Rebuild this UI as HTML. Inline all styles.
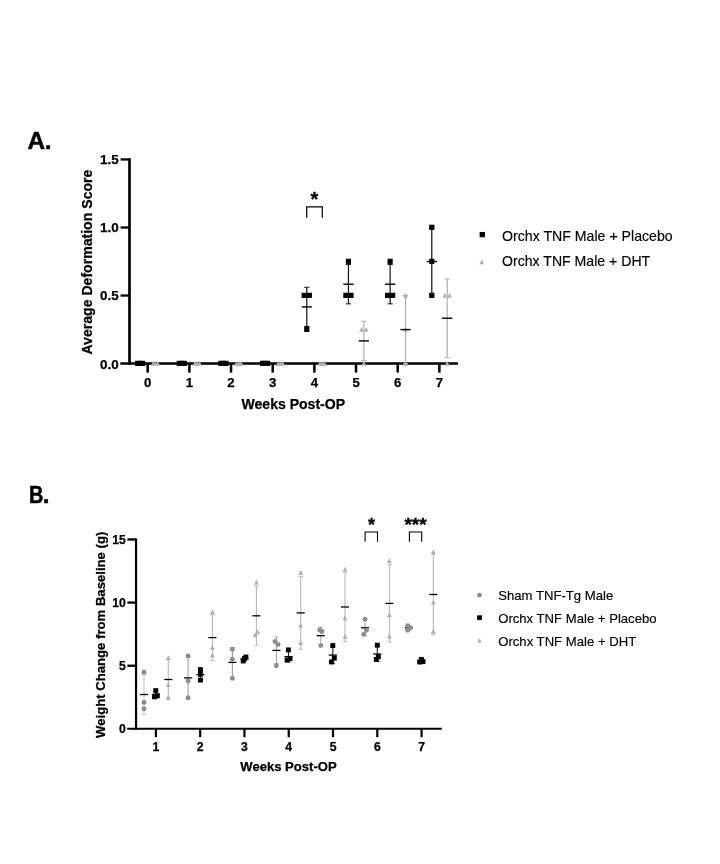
<!DOCTYPE html>
<html lang="en"><head><meta charset="utf-8"><title>Figure</title>
<style>
html,body{margin:0;padding:0;background:#fff;}
body{width:720px;height:864px;overflow:hidden;}
svg{display:block;}
svg text{font-family:"Liberation Sans",sans-serif;fill:#000;}
</style></head><body>
<svg width="720" height="864" viewBox="0 0 720 864">
<rect width="720" height="864" fill="#fff"/>
<line x1="129.50" y1="158.30" x2="129.50" y2="364.85" stroke="#000" stroke-width="2.7" />
<line x1="120.30" y1="363.60" x2="457.90" y2="363.60" stroke="#000" stroke-width="2.5" />
<line x1="120.60" y1="295.55" x2="129.50" y2="295.55" stroke="#000" stroke-width="2.3" />
<line x1="120.60" y1="227.50" x2="129.50" y2="227.50" stroke="#000" stroke-width="2.3" />
<line x1="120.60" y1="159.45" x2="129.50" y2="159.45" stroke="#000" stroke-width="2.3" />
<line x1="147.70" y1="363.60" x2="147.70" y2="372.60" stroke="#000" stroke-width="2.5" />
<text x="147.70" y="386.60" font-size="13.2" font-weight="700" text-anchor="middle" stroke="#000" stroke-width="0.25">0</text>
<line x1="189.37" y1="363.60" x2="189.37" y2="372.60" stroke="#000" stroke-width="2.5" />
<text x="189.37" y="386.60" font-size="13.2" font-weight="700" text-anchor="middle" stroke="#000" stroke-width="0.25">1</text>
<line x1="231.04" y1="363.60" x2="231.04" y2="372.60" stroke="#000" stroke-width="2.5" />
<text x="231.04" y="386.60" font-size="13.2" font-weight="700" text-anchor="middle" stroke="#000" stroke-width="0.25">2</text>
<line x1="272.71" y1="363.60" x2="272.71" y2="372.60" stroke="#000" stroke-width="2.5" />
<text x="272.71" y="386.60" font-size="13.2" font-weight="700" text-anchor="middle" stroke="#000" stroke-width="0.25">3</text>
<line x1="314.38" y1="363.60" x2="314.38" y2="372.60" stroke="#000" stroke-width="2.5" />
<text x="314.38" y="386.60" font-size="13.2" font-weight="700" text-anchor="middle" stroke="#000" stroke-width="0.25">4</text>
<line x1="356.05" y1="363.60" x2="356.05" y2="372.60" stroke="#000" stroke-width="2.5" />
<text x="356.05" y="386.60" font-size="13.2" font-weight="700" text-anchor="middle" stroke="#000" stroke-width="0.25">5</text>
<line x1="397.72" y1="363.60" x2="397.72" y2="372.60" stroke="#000" stroke-width="2.5" />
<text x="397.72" y="386.60" font-size="13.2" font-weight="700" text-anchor="middle" stroke="#000" stroke-width="0.25">6</text>
<line x1="439.39" y1="363.60" x2="439.39" y2="372.60" stroke="#000" stroke-width="2.5" />
<text x="439.39" y="386.60" font-size="13.2" font-weight="700" text-anchor="middle" stroke="#000" stroke-width="0.25">7</text>
<text x="118.70" y="368.50" font-size="13.4" font-weight="700" text-anchor="end" stroke="#000" stroke-width="0.25">0.0</text>
<text x="118.70" y="300.45" font-size="13.4" font-weight="700" text-anchor="end" stroke="#000" stroke-width="0.25">0.5</text>
<text x="118.70" y="232.40" font-size="13.4" font-weight="700" text-anchor="end" stroke="#000" stroke-width="0.25">1.0</text>
<text x="118.70" y="164.35" font-size="13.4" font-weight="700" text-anchor="end" stroke="#000" stroke-width="0.25">1.5</text>
<text x="293.30" y="409.00" font-size="14" font-weight="700" text-anchor="middle" textLength="103.5" lengthAdjust="spacingAndGlyphs" stroke="#000" stroke-width="0.25">Weeks Post-OP</text>
<text transform="translate(92.1,262.1) rotate(-90)" font-size="14.4" font-weight="700" stroke="#000" stroke-width="0.25" text-anchor="middle" textLength="185" lengthAdjust="spacingAndGlyphs">Average Deformation Score</text>
<text x="27.60" y="148.90" font-size="24.4" font-weight="700" text-anchor="start" stroke="#000" stroke-width="0.5" letter-spacing="-0.5">A.</text>
<rect x="135.00" y="360.80" width="5.2" height="5.2" fill="#000"/>
<rect x="137.50" y="360.80" width="5.2" height="5.2" fill="#000"/>
<rect x="140.00" y="360.80" width="5.2" height="5.2" fill="#000"/>
<rect x="176.67" y="360.80" width="5.2" height="5.2" fill="#000"/>
<rect x="179.17" y="360.80" width="5.2" height="5.2" fill="#000"/>
<rect x="181.67" y="360.80" width="5.2" height="5.2" fill="#000"/>
<rect x="218.34" y="360.80" width="5.2" height="5.2" fill="#000"/>
<rect x="220.84" y="360.80" width="5.2" height="5.2" fill="#000"/>
<rect x="223.34" y="360.80" width="5.2" height="5.2" fill="#000"/>
<rect x="260.01" y="360.80" width="5.2" height="5.2" fill="#000"/>
<rect x="262.51" y="360.80" width="5.2" height="5.2" fill="#000"/>
<rect x="265.01" y="360.80" width="5.2" height="5.2" fill="#000"/>
<line x1="306.78" y1="287.25" x2="306.78" y2="326.54" stroke="#111" stroke-width="1.2" />
<line x1="304.18" y1="287.25" x2="309.38" y2="287.25" stroke="#111" stroke-width="1.0" />
<line x1="304.18" y1="326.54" x2="309.38" y2="326.54" stroke="#111" stroke-width="1.0" />
<rect x="301.63" y="292.75" width="5.2" height="5.2" fill="#000"/>
<rect x="306.73" y="292.75" width="5.2" height="5.2" fill="#000"/>
<rect x="304.18" y="326.78" width="5.2" height="5.2" fill="#000"/>
<line x1="301.68" y1="306.89" x2="311.88" y2="306.89" stroke="#000" stroke-width="1.4" />
<line x1="348.45" y1="264.56" x2="348.45" y2="303.85" stroke="#111" stroke-width="1.2" />
<line x1="345.85" y1="264.56" x2="351.05" y2="264.56" stroke="#111" stroke-width="1.0" />
<line x1="345.85" y1="303.85" x2="351.05" y2="303.85" stroke="#111" stroke-width="1.0" />
<rect x="343.30" y="292.75" width="5.2" height="5.2" fill="#000"/>
<rect x="348.40" y="292.75" width="5.2" height="5.2" fill="#000"/>
<rect x="345.85" y="258.73" width="5.2" height="5.2" fill="#000"/>
<line x1="343.35" y1="284.21" x2="353.55" y2="284.21" stroke="#000" stroke-width="1.4" />
<line x1="390.12" y1="264.56" x2="390.12" y2="303.85" stroke="#111" stroke-width="1.2" />
<line x1="387.52" y1="264.56" x2="392.72" y2="264.56" stroke="#111" stroke-width="1.0" />
<line x1="387.52" y1="303.85" x2="392.72" y2="303.85" stroke="#111" stroke-width="1.0" />
<rect x="384.97" y="292.75" width="5.2" height="5.2" fill="#000"/>
<rect x="390.07" y="292.75" width="5.2" height="5.2" fill="#000"/>
<rect x="387.52" y="258.73" width="5.2" height="5.2" fill="#000"/>
<line x1="385.02" y1="284.21" x2="395.22" y2="284.21" stroke="#000" stroke-width="1.4" />
<line x1="431.79" y1="227.50" x2="431.79" y2="295.55" stroke="#111" stroke-width="1.2" />
<line x1="429.19" y1="227.50" x2="434.39" y2="227.50" stroke="#111" stroke-width="1.0" />
<line x1="429.19" y1="295.55" x2="434.39" y2="295.55" stroke="#111" stroke-width="1.0" />
<rect x="429.19" y="224.70" width="5.2" height="5.2" fill="#000"/>
<rect x="429.19" y="258.73" width="5.2" height="5.2" fill="#000"/>
<rect x="429.19" y="292.75" width="5.2" height="5.2" fill="#000"/>
<line x1="426.69" y1="261.53" x2="436.89" y2="261.53" stroke="#000" stroke-width="1.4" />
<polygon points="153.20,361.00 150.80,365.80 155.60,365.80" fill="#b0b0b0"/>
<polygon points="155.50,361.00 153.10,365.80 157.90,365.80" fill="#b0b0b0"/>
<polygon points="157.80,361.00 155.40,365.80 160.20,365.80" fill="#b0b0b0"/>
<polygon points="194.87,361.00 192.47,365.80 197.27,365.80" fill="#b0b0b0"/>
<polygon points="197.17,361.00 194.77,365.80 199.57,365.80" fill="#b0b0b0"/>
<polygon points="199.47,361.00 197.07,365.80 201.87,365.80" fill="#b0b0b0"/>
<polygon points="236.54,361.00 234.14,365.80 238.94,365.80" fill="#b0b0b0"/>
<polygon points="238.84,361.00 236.44,365.80 241.24,365.80" fill="#b0b0b0"/>
<polygon points="241.14,361.00 238.74,365.80 243.54,365.80" fill="#b0b0b0"/>
<polygon points="278.21,361.00 275.81,365.80 280.61,365.80" fill="#b0b0b0"/>
<polygon points="280.51,361.00 278.11,365.80 282.91,365.80" fill="#b0b0b0"/>
<polygon points="282.81,361.00 280.41,365.80 285.21,365.80" fill="#b0b0b0"/>
<polygon points="319.88,361.00 317.48,365.80 322.28,365.80" fill="#b0b0b0"/>
<polygon points="322.18,361.00 319.78,365.80 324.58,365.80" fill="#b0b0b0"/>
<polygon points="324.48,361.00 322.08,365.80 326.88,365.80" fill="#b0b0b0"/>
<line x1="363.85" y1="321.27" x2="363.85" y2="360.56" stroke="#adadad" stroke-width="1.2" />
<line x1="361.25" y1="321.27" x2="366.45" y2="321.27" stroke="#adadad" stroke-width="1.0" />
<line x1="361.25" y1="360.56" x2="366.45" y2="360.56" stroke="#adadad" stroke-width="1.0" />
<polygon points="361.50,326.98 359.10,331.78 363.90,331.78" fill="#b0b0b0"/>
<polygon points="366.20,326.98 363.80,331.78 368.60,331.78" fill="#b0b0b0"/>
<polygon points="363.85,361.00 361.45,365.80 366.25,365.80" fill="#b0b0b0"/>
<line x1="358.75" y1="340.92" x2="368.95" y2="340.92" stroke="#000" stroke-width="1.4" />
<line x1="405.52" y1="295.55" x2="405.52" y2="363.60" stroke="#adadad" stroke-width="1.2" />
<line x1="402.92" y1="295.55" x2="408.12" y2="295.55" stroke="#adadad" stroke-width="1.0" />
<line x1="402.92" y1="363.60" x2="408.12" y2="363.60" stroke="#adadad" stroke-width="1.0" />
<polygon points="405.52,292.95 403.12,297.75 407.92,297.75" fill="#b0b0b0"/>
<polygon points="405.52,326.98 403.12,331.78 407.92,331.78" fill="#b0b0b0"/>
<polygon points="405.52,361.00 403.12,365.80 407.92,365.80" fill="#b0b0b0"/>
<line x1="400.42" y1="329.58" x2="410.62" y2="329.58" stroke="#000" stroke-width="1.4" />
<line x1="447.19" y1="278.94" x2="447.19" y2="357.52" stroke="#adadad" stroke-width="1.2" />
<line x1="444.59" y1="278.94" x2="449.79" y2="278.94" stroke="#adadad" stroke-width="1.0" />
<line x1="444.59" y1="357.52" x2="449.79" y2="357.52" stroke="#adadad" stroke-width="1.0" />
<polygon points="444.84,292.95 442.44,297.75 447.24,297.75" fill="#b0b0b0"/>
<polygon points="449.54,292.95 447.14,297.75 451.94,297.75" fill="#b0b0b0"/>
<polygon points="447.19,361.00 444.79,365.80 449.59,365.80" fill="#b0b0b0"/>
<line x1="442.09" y1="318.23" x2="452.29" y2="318.23" stroke="#000" stroke-width="1.4" />
<polyline points="306.7,217.8 306.7,206.8 322.3,206.8 322.3,217.8" fill="none" stroke="#000" stroke-width="1.2"/>
<text x="314.40" y="206.10" font-size="20" font-weight="700" text-anchor="middle" stroke="#000" stroke-width="0.3">*</text>
<rect x="479.65" y="231.95" width="5.3" height="5.3" fill="#000"/>
<polygon points="481.80,259.40 479.40,264.20 484.20,264.20" fill="#b0b0b0"/>
<text x="502.00" y="240.80" font-size="14.1" font-weight="400" text-anchor="start" textLength="170.7" lengthAdjust="spacingAndGlyphs" stroke="#000" stroke-width="0.15">Orchx TNF Male + Placebo</text>
<text x="502.00" y="266.30" font-size="14.1" font-weight="400" text-anchor="start" textLength="148.2" lengthAdjust="spacingAndGlyphs" stroke="#000" stroke-width="0.15">Orchx TNF Male + DHT</text>
<line x1="136.05" y1="538.50" x2="136.05" y2="729.85" stroke="#000" stroke-width="2.2" />
<line x1="127.20" y1="728.85" x2="441.80" y2="728.85" stroke="#000" stroke-width="2.0" />
<line x1="127.40" y1="665.72" x2="136.05" y2="665.72" stroke="#000" stroke-width="2.3" />
<line x1="127.40" y1="602.58" x2="136.05" y2="602.58" stroke="#000" stroke-width="2.3" />
<line x1="127.40" y1="539.45" x2="136.05" y2="539.45" stroke="#000" stroke-width="2.3" />
<line x1="155.90" y1="728.85" x2="155.90" y2="737.20" stroke="#000" stroke-width="2.2" />
<text x="155.90" y="750.70" font-size="12.2" font-weight="700" text-anchor="middle" stroke="#000" stroke-width="0.25">1</text>
<line x1="200.18" y1="728.85" x2="200.18" y2="737.20" stroke="#000" stroke-width="2.2" />
<text x="200.18" y="750.70" font-size="12.2" font-weight="700" text-anchor="middle" stroke="#000" stroke-width="0.25">2</text>
<line x1="244.46" y1="728.85" x2="244.46" y2="737.20" stroke="#000" stroke-width="2.2" />
<text x="244.46" y="750.70" font-size="12.2" font-weight="700" text-anchor="middle" stroke="#000" stroke-width="0.25">3</text>
<line x1="288.74" y1="728.85" x2="288.74" y2="737.20" stroke="#000" stroke-width="2.2" />
<text x="288.74" y="750.70" font-size="12.2" font-weight="700" text-anchor="middle" stroke="#000" stroke-width="0.25">4</text>
<line x1="333.02" y1="728.85" x2="333.02" y2="737.20" stroke="#000" stroke-width="2.2" />
<text x="333.02" y="750.70" font-size="12.2" font-weight="700" text-anchor="middle" stroke="#000" stroke-width="0.25">5</text>
<line x1="377.30" y1="728.85" x2="377.30" y2="737.20" stroke="#000" stroke-width="2.2" />
<text x="377.30" y="750.70" font-size="12.2" font-weight="700" text-anchor="middle" stroke="#000" stroke-width="0.25">6</text>
<line x1="421.58" y1="728.85" x2="421.58" y2="737.20" stroke="#000" stroke-width="2.2" />
<text x="421.58" y="750.70" font-size="12.2" font-weight="700" text-anchor="middle" stroke="#000" stroke-width="0.25">7</text>
<text x="125.90" y="733.25" font-size="12.2" font-weight="700" text-anchor="end" stroke="#000" stroke-width="0.25">0</text>
<text x="125.90" y="670.12" font-size="12.2" font-weight="700" text-anchor="end" stroke="#000" stroke-width="0.25">5</text>
<text x="125.90" y="606.98" font-size="12.2" font-weight="700" text-anchor="end" stroke="#000" stroke-width="0.25">10</text>
<text x="125.90" y="543.85" font-size="12.2" font-weight="700" text-anchor="end" stroke="#000" stroke-width="0.25">15</text>
<text x="288.50" y="770.70" font-size="13" font-weight="700" text-anchor="middle" textLength="96.3" lengthAdjust="spacingAndGlyphs" stroke="#000" stroke-width="0.25">Weeks Post-OP</text>
<text transform="translate(104.5,634.8) rotate(-90)" font-size="13.6" font-weight="700" stroke="#000" stroke-width="0.25" text-anchor="middle" textLength="206.2" lengthAdjust="spacingAndGlyphs">Weight Change from Baseline (g)</text>
<text y="502.6" font-size="24.4" font-weight="700" stroke="#000" stroke-width="0.5"><tspan x="28.9" textLength="14.4" lengthAdjust="spacingAndGlyphs">B</tspan><tspan x="42.7">.</tspan></text>
<line x1="144.00" y1="674.60" x2="144.00" y2="714.40" stroke="#c4c4c4" stroke-width="1.1" />
<line x1="141.70" y1="674.60" x2="146.30" y2="674.60" stroke="#c4c4c4" stroke-width="0.9" />
<line x1="141.70" y1="714.40" x2="146.30" y2="714.40" stroke="#c4c4c4" stroke-width="0.9" />
<line x1="139.95" y1="694.50" x2="148.05" y2="694.50" stroke="#000" stroke-width="1.3" />
<circle cx="144.00" cy="672.30" r="2.45" fill="#8c8c8c"/>
<circle cx="144.00" cy="702.40" r="2.45" fill="#8c8c8c"/>
<circle cx="144.00" cy="708.70" r="2.45" fill="#8c8c8c"/>
<line x1="155.90" y1="691.07" x2="155.90" y2="697.73" stroke="#222" stroke-width="1.1" />
<line x1="153.60" y1="691.07" x2="158.20" y2="691.07" stroke="#222" stroke-width="0.9" />
<line x1="153.60" y1="697.73" x2="158.20" y2="697.73" stroke="#222" stroke-width="0.9" />
<line x1="151.85" y1="694.40" x2="159.95" y2="694.40" stroke="#000" stroke-width="1.3" />
<rect x="153.35" y="688.15" width="4.9" height="4.9" fill="#000"/>
<rect x="152.05" y="694.35" width="4.9" height="4.9" fill="#000"/>
<rect x="154.85" y="693.35" width="4.9" height="4.9" fill="#000"/>
<line x1="168.30" y1="659.32" x2="168.30" y2="699.68" stroke="#b8b8b8" stroke-width="1.1" />
<line x1="166.00" y1="659.32" x2="170.60" y2="659.32" stroke="#b8b8b8" stroke-width="0.9" />
<line x1="166.00" y1="699.68" x2="170.60" y2="699.68" stroke="#b8b8b8" stroke-width="0.9" />
<line x1="164.25" y1="679.50" x2="172.35" y2="679.50" stroke="#000" stroke-width="1.3" />
<polygon points="168.30,655.25 165.85,660.15 170.75,660.15" fill="#b0b0b0"/>
<polygon points="168.30,682.15 165.85,687.05 170.75,687.05" fill="#b0b0b0"/>
<polygon points="168.30,694.75 165.85,699.65 170.75,699.65" fill="#b0b0b0"/>
<line x1="188.10" y1="656.86" x2="188.10" y2="698.94" stroke="#a4a4a4" stroke-width="1.1" />
<line x1="185.80" y1="656.86" x2="190.40" y2="656.86" stroke="#a4a4a4" stroke-width="0.9" />
<line x1="185.80" y1="698.94" x2="190.40" y2="698.94" stroke="#a4a4a4" stroke-width="0.9" />
<line x1="184.05" y1="677.90" x2="192.15" y2="677.90" stroke="#000" stroke-width="1.3" />
<circle cx="188.10" cy="655.90" r="2.45" fill="#8c8c8c"/>
<circle cx="188.10" cy="681.00" r="2.45" fill="#8c8c8c"/>
<circle cx="188.10" cy="697.70" r="2.45" fill="#8c8c8c"/>
<line x1="200.40" y1="669.34" x2="200.40" y2="679.86" stroke="#222" stroke-width="1.1" />
<line x1="198.10" y1="669.34" x2="202.70" y2="669.34" stroke="#222" stroke-width="0.9" />
<line x1="198.10" y1="679.86" x2="202.70" y2="679.86" stroke="#222" stroke-width="0.9" />
<line x1="196.35" y1="674.60" x2="204.45" y2="674.60" stroke="#000" stroke-width="1.3" />
<rect x="197.95" y="667.15" width="4.9" height="4.9" fill="#000"/>
<rect x="197.95" y="671.85" width="4.9" height="4.9" fill="#000"/>
<rect x="197.95" y="677.65" width="4.9" height="4.9" fill="#000"/>
<line x1="212.40" y1="614.69" x2="212.40" y2="660.51" stroke="#b8b8b8" stroke-width="1.1" />
<line x1="210.10" y1="614.69" x2="214.70" y2="614.69" stroke="#b8b8b8" stroke-width="0.9" />
<line x1="210.10" y1="660.51" x2="214.70" y2="660.51" stroke="#b8b8b8" stroke-width="0.9" />
<line x1="208.35" y1="637.60" x2="216.45" y2="637.60" stroke="#000" stroke-width="1.3" />
<polygon points="212.40,609.55 209.95,614.45 214.85,614.45" fill="#b0b0b0"/>
<polygon points="212.40,644.75 209.95,649.65 214.85,649.65" fill="#b0b0b0"/>
<polygon points="212.40,652.55 209.95,657.45 214.85,657.45" fill="#b0b0b0"/>
<line x1="232.40" y1="647.60" x2="232.40" y2="677.20" stroke="#9c9c9c" stroke-width="1.1" />
<line x1="230.10" y1="647.60" x2="234.70" y2="647.60" stroke="#9c9c9c" stroke-width="0.9" />
<line x1="230.10" y1="677.20" x2="234.70" y2="677.20" stroke="#9c9c9c" stroke-width="0.9" />
<line x1="228.35" y1="662.40" x2="236.45" y2="662.40" stroke="#000" stroke-width="1.3" />
<circle cx="232.40" cy="649.30" r="2.45" fill="#8c8c8c"/>
<circle cx="232.40" cy="659.20" r="2.45" fill="#8c8c8c"/>
<circle cx="232.40" cy="678.40" r="2.45" fill="#8c8c8c"/>
<line x1="244.50" y1="656.89" x2="244.50" y2="660.91" stroke="#222" stroke-width="1.1" />
<line x1="242.20" y1="656.89" x2="246.80" y2="656.89" stroke="#222" stroke-width="0.9" />
<line x1="242.20" y1="660.91" x2="246.80" y2="660.91" stroke="#222" stroke-width="0.9" />
<line x1="240.45" y1="658.90" x2="248.55" y2="658.90" stroke="#000" stroke-width="1.3" />
<rect x="243.45" y="654.55" width="4.9" height="4.9" fill="#000"/>
<rect x="240.75" y="658.55" width="4.9" height="4.9" fill="#000"/>
<rect x="242.15" y="656.15" width="4.9" height="4.9" fill="#000"/>
<line x1="256.40" y1="586.32" x2="256.40" y2="645.28" stroke="#b8b8b8" stroke-width="1.1" />
<line x1="254.10" y1="586.32" x2="258.70" y2="586.32" stroke="#b8b8b8" stroke-width="0.9" />
<line x1="254.10" y1="645.28" x2="258.70" y2="645.28" stroke="#b8b8b8" stroke-width="0.9" />
<line x1="252.35" y1="615.80" x2="260.45" y2="615.80" stroke="#000" stroke-width="1.3" />
<polygon points="256.40,579.75 253.95,584.65 258.85,584.65" fill="#b0b0b0"/>
<polygon points="257.60,629.25 255.15,634.15 260.05,634.15" fill="#b0b0b0"/>
<polygon points="255.10,632.25 252.65,637.15 257.55,637.15" fill="#b0b0b0"/>
<line x1="276.40" y1="637.13" x2="276.40" y2="663.67" stroke="#a8a8a8" stroke-width="1.1" />
<line x1="274.10" y1="637.13" x2="278.70" y2="637.13" stroke="#a8a8a8" stroke-width="0.9" />
<line x1="274.10" y1="663.67" x2="278.70" y2="663.67" stroke="#a8a8a8" stroke-width="0.9" />
<line x1="272.35" y1="650.40" x2="280.45" y2="650.40" stroke="#000" stroke-width="1.3" />
<circle cx="275.00" cy="641.50" r="2.45" fill="#8c8c8c"/>
<circle cx="278.00" cy="644.40" r="2.45" fill="#8c8c8c"/>
<circle cx="276.40" cy="665.80" r="2.45" fill="#8c8c8c"/>
<line x1="288.50" y1="651.13" x2="288.50" y2="662.07" stroke="#222" stroke-width="1.1" />
<line x1="286.20" y1="651.13" x2="290.80" y2="651.13" stroke="#222" stroke-width="0.9" />
<line x1="286.20" y1="662.07" x2="290.80" y2="662.07" stroke="#222" stroke-width="0.9" />
<line x1="284.45" y1="656.60" x2="292.55" y2="656.60" stroke="#000" stroke-width="1.3" />
<rect x="285.95" y="647.45" width="4.9" height="4.9" fill="#000"/>
<rect x="284.65" y="657.55" width="4.9" height="4.9" fill="#000"/>
<rect x="287.55" y="656.15" width="4.9" height="4.9" fill="#000"/>
<line x1="300.70" y1="576.44" x2="300.70" y2="649.36" stroke="#b8b8b8" stroke-width="1.1" />
<line x1="298.40" y1="576.44" x2="303.00" y2="576.44" stroke="#b8b8b8" stroke-width="0.9" />
<line x1="298.40" y1="649.36" x2="303.00" y2="649.36" stroke="#b8b8b8" stroke-width="0.9" />
<line x1="296.65" y1="612.90" x2="304.75" y2="612.90" stroke="#000" stroke-width="1.3" />
<polygon points="300.70,570.05 298.25,574.95 303.15,574.95" fill="#b0b0b0"/>
<polygon points="300.70,622.75 298.25,627.65 303.15,627.65" fill="#b0b0b0"/>
<polygon points="300.70,640.05 298.25,644.95 303.15,644.95" fill="#b0b0b0"/>
<line x1="320.80" y1="627.07" x2="320.80" y2="644.33" stroke="#a8a8a8" stroke-width="1.1" />
<line x1="318.50" y1="627.07" x2="323.10" y2="627.07" stroke="#a8a8a8" stroke-width="0.9" />
<line x1="318.50" y1="644.33" x2="323.10" y2="644.33" stroke="#a8a8a8" stroke-width="0.9" />
<line x1="316.75" y1="635.70" x2="324.85" y2="635.70" stroke="#000" stroke-width="1.3" />
<circle cx="319.70" cy="630.00" r="2.45" fill="#8c8c8c"/>
<circle cx="322.00" cy="631.40" r="2.45" fill="#8c8c8c"/>
<circle cx="320.80" cy="645.60" r="2.45" fill="#8c8c8c"/>
<line x1="332.80" y1="646.55" x2="332.80" y2="663.65" stroke="#222" stroke-width="1.1" />
<line x1="330.50" y1="646.55" x2="335.10" y2="646.55" stroke="#222" stroke-width="0.9" />
<line x1="330.50" y1="663.65" x2="335.10" y2="663.65" stroke="#222" stroke-width="0.9" />
<line x1="328.75" y1="655.10" x2="336.85" y2="655.10" stroke="#000" stroke-width="1.3" />
<rect x="330.35" y="643.15" width="4.9" height="4.9" fill="#000"/>
<rect x="331.85" y="655.75" width="4.9" height="4.9" fill="#000"/>
<rect x="328.95" y="659.45" width="4.9" height="4.9" fill="#000"/>
<line x1="345.00" y1="572.38" x2="345.00" y2="641.62" stroke="#b8b8b8" stroke-width="1.1" />
<line x1="342.70" y1="572.38" x2="347.30" y2="572.38" stroke="#b8b8b8" stroke-width="0.9" />
<line x1="342.70" y1="641.62" x2="347.30" y2="641.62" stroke="#b8b8b8" stroke-width="0.9" />
<line x1="340.95" y1="607.00" x2="349.05" y2="607.00" stroke="#000" stroke-width="1.3" />
<polygon points="345.00,566.75 342.55,571.65 347.45,571.65" fill="#b0b0b0"/>
<polygon points="345.00,615.35 342.55,620.25 347.45,620.25" fill="#b0b0b0"/>
<polygon points="345.00,633.75 342.55,638.65 347.45,638.65" fill="#b0b0b0"/>
<line x1="365.00" y1="619.95" x2="365.00" y2="635.65" stroke="#a8a8a8" stroke-width="1.1" />
<line x1="362.70" y1="619.95" x2="367.30" y2="619.95" stroke="#a8a8a8" stroke-width="0.9" />
<line x1="362.70" y1="635.65" x2="367.30" y2="635.65" stroke="#a8a8a8" stroke-width="0.9" />
<line x1="360.95" y1="627.80" x2="369.05" y2="627.80" stroke="#000" stroke-width="1.3" />
<circle cx="365.00" cy="619.20" r="2.45" fill="#8c8c8c"/>
<circle cx="366.50" cy="630.20" r="2.45" fill="#8c8c8c"/>
<circle cx="363.80" cy="634.40" r="2.45" fill="#8c8c8c"/>
<line x1="377.30" y1="646.42" x2="377.30" y2="661.58" stroke="#222" stroke-width="1.1" />
<line x1="375.00" y1="646.42" x2="379.60" y2="646.42" stroke="#222" stroke-width="0.9" />
<line x1="375.00" y1="661.58" x2="379.60" y2="661.58" stroke="#222" stroke-width="0.9" />
<line x1="373.25" y1="654.00" x2="381.35" y2="654.00" stroke="#000" stroke-width="1.3" />
<rect x="374.85" y="642.75" width="4.9" height="4.9" fill="#000"/>
<rect x="375.85" y="654.45" width="4.9" height="4.9" fill="#000"/>
<rect x="373.85" y="656.95" width="4.9" height="4.9" fill="#000"/>
<line x1="389.40" y1="564.65" x2="389.40" y2="642.15" stroke="#b8b8b8" stroke-width="1.1" />
<line x1="387.10" y1="564.65" x2="391.70" y2="564.65" stroke="#b8b8b8" stroke-width="0.9" />
<line x1="387.10" y1="642.15" x2="391.70" y2="642.15" stroke="#b8b8b8" stroke-width="0.9" />
<line x1="385.35" y1="603.40" x2="393.45" y2="603.40" stroke="#000" stroke-width="1.3" />
<polygon points="389.40,558.35 386.95,563.25 391.85,563.25" fill="#b0b0b0"/>
<polygon points="389.40,612.15 386.95,617.05 391.85,617.05" fill="#b0b0b0"/>
<polygon points="389.40,633.55 386.95,638.45 391.85,638.45" fill="#b0b0b0"/>
<line x1="408.90" y1="625.50" x2="408.90" y2="630.10" stroke="#a8a8a8" stroke-width="1.1" />
<line x1="406.60" y1="625.50" x2="411.20" y2="625.50" stroke="#a8a8a8" stroke-width="0.9" />
<line x1="406.60" y1="630.10" x2="411.20" y2="630.10" stroke="#a8a8a8" stroke-width="0.9" />
<line x1="404.85" y1="627.80" x2="412.95" y2="627.80" stroke="#000" stroke-width="1.3" />
<circle cx="407.70" cy="625.60" r="2.45" fill="#8c8c8c"/>
<circle cx="410.20" cy="627.70" r="2.45" fill="#8c8c8c"/>
<circle cx="407.70" cy="630.20" r="2.45" fill="#8c8c8c"/>
<line x1="421.30" y1="659.50" x2="421.30" y2="662.30" stroke="#222" stroke-width="1.1" />
<line x1="419.00" y1="659.50" x2="423.60" y2="659.50" stroke="#222" stroke-width="0.9" />
<line x1="419.00" y1="662.30" x2="423.60" y2="662.30" stroke="#222" stroke-width="0.9" />
<line x1="417.25" y1="660.90" x2="425.35" y2="660.90" stroke="#000" stroke-width="1.3" />
<rect x="417.25" y="659.55" width="4.9" height="4.9" fill="#000"/>
<rect x="420.55" y="659.15" width="4.9" height="4.9" fill="#000"/>
<rect x="418.95" y="656.95" width="4.9" height="4.9" fill="#000"/>
<line x1="433.30" y1="554.23" x2="433.30" y2="634.77" stroke="#b8b8b8" stroke-width="1.1" />
<line x1="431.00" y1="554.23" x2="435.60" y2="554.23" stroke="#b8b8b8" stroke-width="0.9" />
<line x1="431.00" y1="634.77" x2="435.60" y2="634.77" stroke="#b8b8b8" stroke-width="0.9" />
<line x1="429.25" y1="594.50" x2="437.35" y2="594.50" stroke="#000" stroke-width="1.3" />
<polygon points="433.30,549.25 430.85,554.15 435.75,554.15" fill="#b0b0b0"/>
<polygon points="433.30,599.65 430.85,604.55 435.75,604.55" fill="#b0b0b0"/>
<polygon points="433.30,628.85 430.85,633.75 435.75,633.75" fill="#b0b0b0"/>
<polyline points="365.1,541.8 365.1,532.0 377.5,532.0 377.5,541.8" fill="none" stroke="#000" stroke-width="1.1"/>
<polyline points="409.4,541.8 409.4,532.0 421.7,532.0 421.7,541.8" fill="none" stroke="#000" stroke-width="1.1"/>
<text x="371.40" y="531.00" font-size="18" font-weight="700" text-anchor="middle" stroke="#000" stroke-width="0.3">*</text>
<text x="415.50" y="531.00" font-size="18" font-weight="700" text-anchor="middle" textLength="22.2" lengthAdjust="spacingAndGlyphs" stroke="#000" stroke-width="0.3">***</text>
<circle cx="479.50" cy="595.10" r="2.4" fill="#8c8c8c"/>
<rect x="477.10" y="615.30" width="4.8" height="4.8" fill="#000"/>
<polygon points="479.50,638.25 477.25,642.75 481.75,642.75" fill="#b0b0b0"/>
<text x="498.20" y="599.90" font-size="13.1" font-weight="400" text-anchor="start" textLength="115" lengthAdjust="spacingAndGlyphs" stroke="#000" stroke-width="0.15">Sham TNF-Tg Male</text>
<text x="498.20" y="622.80" font-size="13.1" font-weight="400" text-anchor="start" textLength="158.4" lengthAdjust="spacingAndGlyphs" stroke="#000" stroke-width="0.15">Orchx TNF Male + Placebo</text>
<text x="498.20" y="645.90" font-size="13.1" font-weight="400" text-anchor="start" textLength="138" lengthAdjust="spacingAndGlyphs" stroke="#000" stroke-width="0.15">Orchx TNF Male + DHT</text>
</svg>
</body></html>
